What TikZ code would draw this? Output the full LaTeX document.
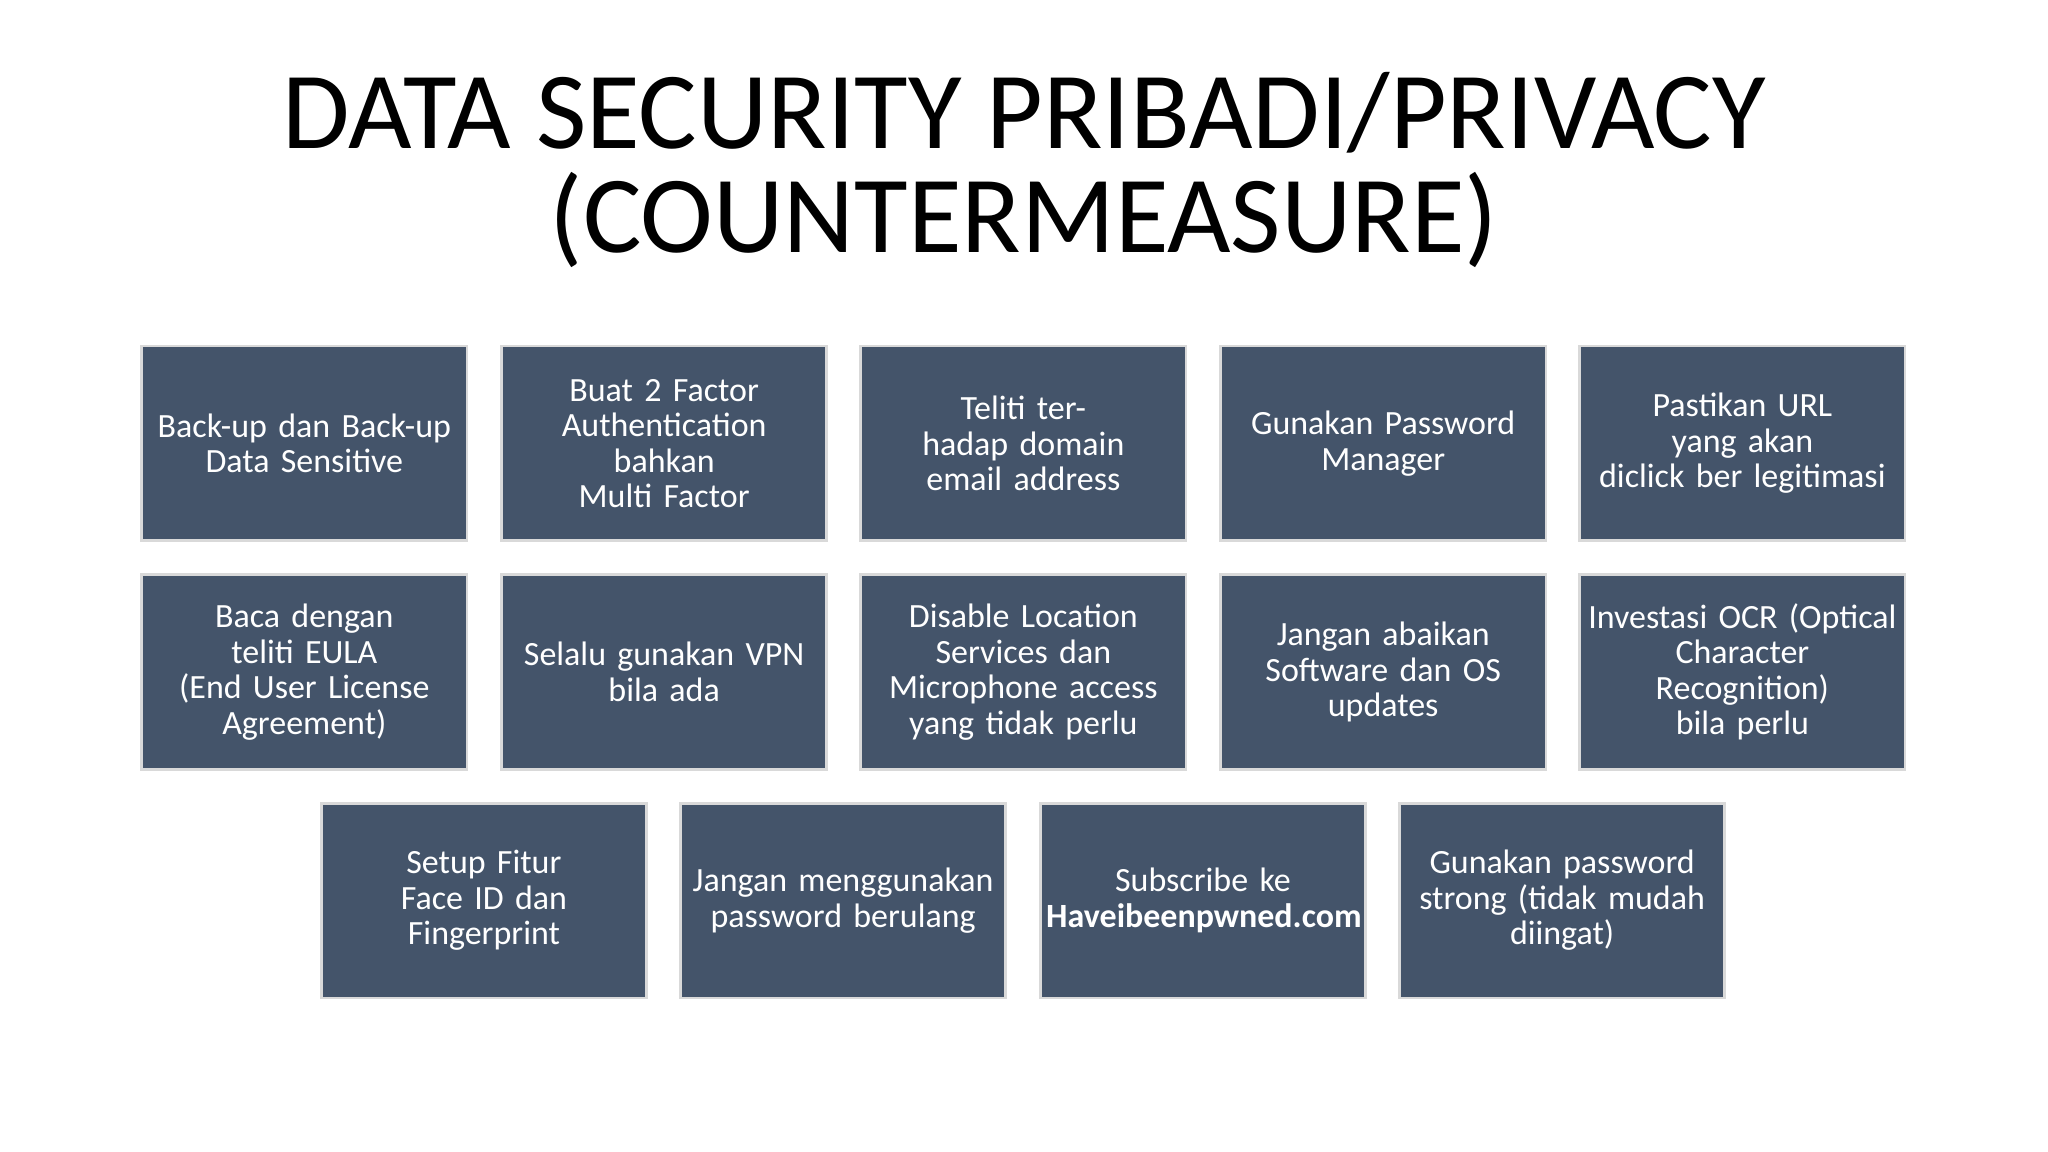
\documentclass[tikz,border=0pt]{standalone}
\usepackage{fontspec}
\setmainfont{Carlito}
\begin{document}
\begin{tikzpicture}[x=0.5pt,y=-0.5pt,
  card/.style={draw=white!85!black,line width=1pt,fill={rgb,255:red,68;green,84;blue,106},minimum width=124.5pt,minimum height=74.5pt,text width=120pt,align=center,text=white,font=\fontsize{13}{13.6}\selectfont,inner sep=0pt}]
\useasboundingbox (0,0) rectangle (1568,882);
\node[font=\fontsize{42}{40}\selectfont,align=center] (title) at (784,130) {DATA SECURITY PRIBADI/PRIVACY\\(COUNTERMEASURE)};
\node[card] (a1) at (233,339.5) {Back-up dan Back-up\\Data Sensitive};
\node[card] (a2) at (508.5,339.5) {Buat 2 Factor\\Authentication bahkan\\Multi Factor};
\node[card] (a3) at (783.5,339.5) {Teliti terhadap domain\\email address};
\node[card] (a4) at (1059,339.5) {Gunakan Password\\Manager};
\node[card] (a5) at (1334,339.5) {Pastikan URL yang akan\\diclick ber legitimasi};
\node[card] (b1) at (233,514.5) {Baca dengan teliti EULA\\(End User License\\Agreement)};
\node[card] (b2) at (508.5,514.5) {Selalu gunakan VPN\\bila ada};
\node[card] (b3) at (783.5,514.5) {Disable Location\\Services dan\\Microphone access\\yang tidak perlu};
\node[card] (b4) at (1059,514.5) {Jangan abaikan\\Software dan OS\\updates};
\node[card] (b5) at (1334,514.5) {Investasi OCR (Optical\\Character Recognition)\\bila perlu};
\node[card] (c1) at (370.5,689.5) {Setup Fitur Face ID dan\\Fingerprint};
\node[card] (c2) at (645.5,689.5) {Jangan menggunakan\\password berulang};
\node[card] (c3) at (921,689.5) {Subscribe ke\\\textbf{Haveibeenpwned.com}};
\node[card] (c4) at (1196,689.5) {Gunakan password\\strong (tidak mudah\\diingat)};
\end{tikzpicture}
\end{document}
